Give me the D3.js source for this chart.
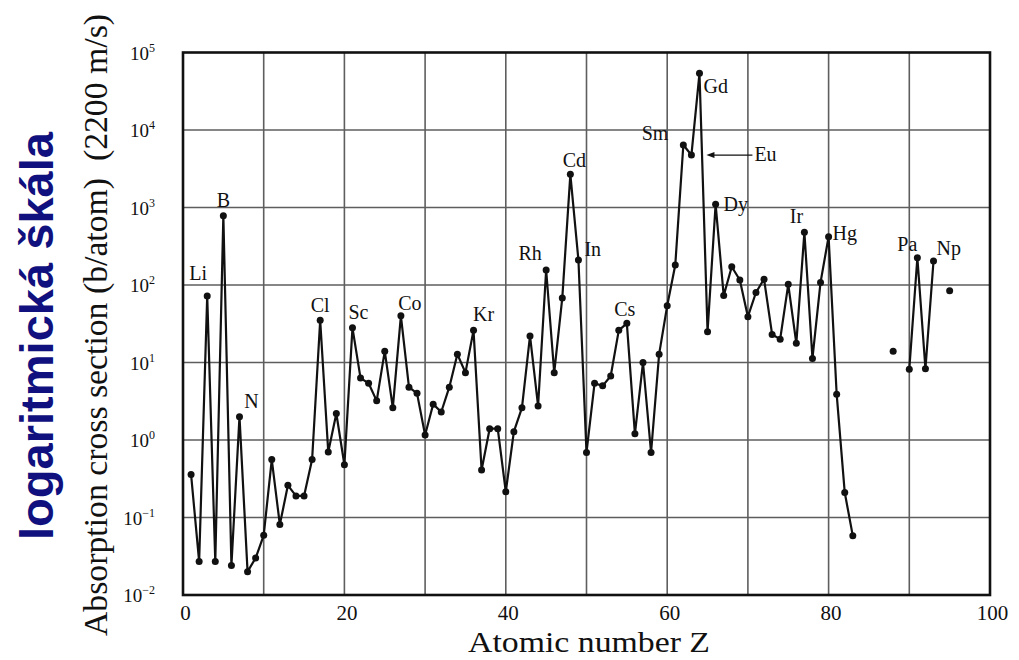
<!DOCTYPE html>
<html><head><meta charset="utf-8">
<script src="https://cdn.jsdelivr.net/npm/d3@7"></script>
<style>
html,body{margin:0;padding:0;background:#fff;}
svg{display:block;}
</style></head>
<body>
<script>
// ---- data ----
const atomicNumber = [1,2,3,4,5,6,7,8,9,10,11,12,13,14,15,16,17,18,19,20,
  21,22,23,24,25,26,27,28,29,30,31,32,33,34,35,36,37,38,39,40,
  41,42,43,44,45,46,47,48,49,50,51,52,53,54,55,56,57,58,59,60,
  61,62,63,64,65,66,67,68,69,70,71,72,73,74,75,76,77,78,79,80,
  81,82,83,84,85,86,87,88,89,90,91,92,93,94,95];
const crossSection = [0.36,0.027,72,0.027,780,0.024,2.0,0.020,0.030,0.059,
  0.56,0.081,0.26,0.19,0.19,0.56,35,0.70,2.2,0.48,
  28,6.3,5.4,3.2,14,2.6,40,4.8,4.0,1.16,
  2.9,2.3,4.8,12.8,7.4,26,0.41,1.4,1.4,0.215,
  1.28,2.6,22,2.75,156,7.4,68,2680,210,0.69,
  5.4,5.0,6.7,26,32,1.2,10,0.69,12.8,54,
  181,6400,4750,53900,25,1100,73,172,116,39,
  80,119,23,20,102,17.7,478,11.3,108,420,
  3.9,0.21,0.058,null,null,null,null,14,null,8.2,
  225,8.3,204,null,84];
const labelSymbols = ["Li","B","N","Cl","Sc","Co","Kr","Rh","Cd","In","Cs","Sm","Eu","Gd","Dy","Ir","Hg","Pa","Np"];
const labelZ       = [3,5,7,17,21,27,36,45,48,49,55,62,63,64,66,77,80,91,93];
const xTicks = [0,20,40,60,80,100];
const xGrid = [10,20,30,40,50,60,70,80,90];
const yExponents = [-2,-1,0,1,2,3,4,5];
const xTitle = "Atomic number Z";
const yTitle = "Absorption cross section (b/atom)\u00a0\u00a0(2200 m/s)";
const sideTitle = "logaritmická škála";

// ---- layout / style ----
const W = 1019, H = 660;
const plot = {left: 183, right: 990, top: 52.5, bottom: 595};
const labelPlacement = {
  Li:{dx:-9,dy:-16,a:"middle"}, B:{dx:0,dy:-9,a:"middle"}, N:{dx:12,dy:-9,a:"middle"},
  Cl:{dx:0,dy:-8,a:"middle"}, Sc:{dx:6,dy:-9,a:"middle"}, Co:{dx:9,dy:-6,a:"middle"},
  Kr:{dx:10,dy:-9,a:"middle"}, Rh:{dx:-16,dy:-10,a:"middle"}, Cd:{dx:4,dy:-7,a:"middle"},
  In:{dx:6,dy:-4,a:"start"}, Cs:{dx:-2,dy:-7,a:"middle"}, Sm:{dx:-15,dy:-5,a:"end"},
  Eu:{dx:63,dy:6,a:"start",arrow:true}, Gd:{dx:4,dy:20,a:"start"}, Dy:{dx:8,dy:7,a:"start"},
  Ir:{dx:-8,dy:-9,a:"middle"}, Hg:{dx:4,dy:3,a:"start"}, Pa:{dx:-10,dy:-7,a:"middle"},
  Np:{dx:3,dy:-6,a:"start"}
};

const svg = d3.select("body").append("svg").attr("width",W).attr("height",H);
const x = d3.scaleLinear().domain([0,100]).range([plot.left, plot.right]);
const y = d3.scaleLog().domain([1e-2,1e5]).range([plot.bottom, plot.top]);

const serif = "'Liberation Serif','Times New Roman',serif";

// grid
const g = svg.append("g");
g.selectAll(".vg").data(xGrid).join("line")
  .attr("x1",d=>x(d)).attr("x2",d=>x(d)).attr("y1",plot.top).attr("y2",plot.bottom)
  .attr("stroke","#5e5e5e").attr("stroke-width",1.6);
g.selectAll(".hg").data(yExponents.slice(1,-1)).join("line")
  .attr("x1",plot.left).attr("x2",plot.right).attr("y1",d=>y(Math.pow(10,d))).attr("y2",d=>y(Math.pow(10,d)))
  .attr("stroke","#5e5e5e").attr("stroke-width",1.6);

// frame
svg.append("rect").attr("x",plot.left).attr("y",plot.top)
  .attr("width",plot.right-plot.left).attr("height",plot.bottom-plot.top)
  .attr("fill","none").attr("stroke","#111").attr("stroke-width",2.6);

// x tick labels via axis
const xAxis = d3.axisBottom(x).tickValues(xTicks).tickSize(0).tickPadding(0).tickFormat(d3.format("d"));
const xa = svg.append("g").attr("transform",`translate(2,${plot.bottom})`).call(xAxis);
xa.select(".domain").remove();
xa.selectAll("text").attr("font-family",serif).attr("font-size",21).attr("fill","#111")
  .attr("dy",null).attr("y",25);

// y tick labels
const ya = svg.append("g");
const yl = ya.selectAll("text").data(yExponents).join("text")
  .attr("x",155).attr("y",d=>y(Math.pow(10,d))+7)
  .attr("text-anchor","end").attr("font-family",serif).attr("fill","#111");
yl.append("tspan").attr("font-size",19).text("10");
yl.append("tspan").attr("font-size",12).attr("dy",-8).text(d=>String(d).replace("-","\u2212"));

// data line
const pts = atomicNumber.map((z,i)=>({z, v: crossSection[i]}));
const line = d3.line().defined(d=>d.v!=null).x(d=>x(d.z)).y(d=>y(d.v));
svg.append("path").datum(pts).attr("d",line).attr("fill","none")
  .attr("stroke","#111").attr("stroke-width",2.2).attr("stroke-linejoin","round");
svg.append("g").selectAll("circle").data(pts.filter(d=>d.v!=null)).join("circle")
  .attr("cx",d=>x(d.z)).attr("cy",d=>y(d.v)).attr("r",3.5).attr("fill","#111");

// element labels
const vOf = z => crossSection[atomicNumber.indexOf(z)];
const lab = svg.append("g");
labelSymbols.forEach((s,i)=>{
  const z = labelZ[i], p = labelPlacement[s];
  const px = x(z), py = y(vOf(z));
  lab.append("text").attr("x",px+p.dx).attr("y",py+p.dy).attr("text-anchor",p.a)
    .attr("font-family",serif).attr("font-size",20).attr("fill","#111").text(s);
  if(p.arrow){
    lab.append("line").attr("x1",px+61).attr("x2",px+22).attr("y1",py).attr("y2",py)
      .attr("stroke","#111").attr("stroke-width",1.2);
    lab.append("path").attr("d",`M${px+15},${py} L${px+23},${py-3} L${px+23},${py+3} Z`).attr("fill","#111");
  }
});

// axis titles
svg.append("text").attr("x",589).attr("y",652).attr("text-anchor","middle")
  .attr("font-family",serif).attr("font-size",30).attr("fill","#111")
  .attr("textLength",242).attr("lengthAdjust","spacingAndGlyphs").text(xTitle);
svg.append("text").attr("transform","translate(107,325) rotate(-90)").attr("text-anchor","middle")
  .attr("font-family",serif).attr("font-size",33).attr("fill","#111")
  .attr("textLength",622).attr("lengthAdjust","spacingAndGlyphs").text(yTitle);
svg.append("text").attr("transform","translate(53,336) rotate(-90)").attr("text-anchor","middle")
  .attr("font-family","'Liberation Sans',Arial,sans-serif").attr("font-weight","bold")
  .attr("font-size",46).attr("fill","#10107e")
  .attr("textLength",408).attr("lengthAdjust","spacingAndGlyphs").text(sideTitle);
</script>
</body></html>
